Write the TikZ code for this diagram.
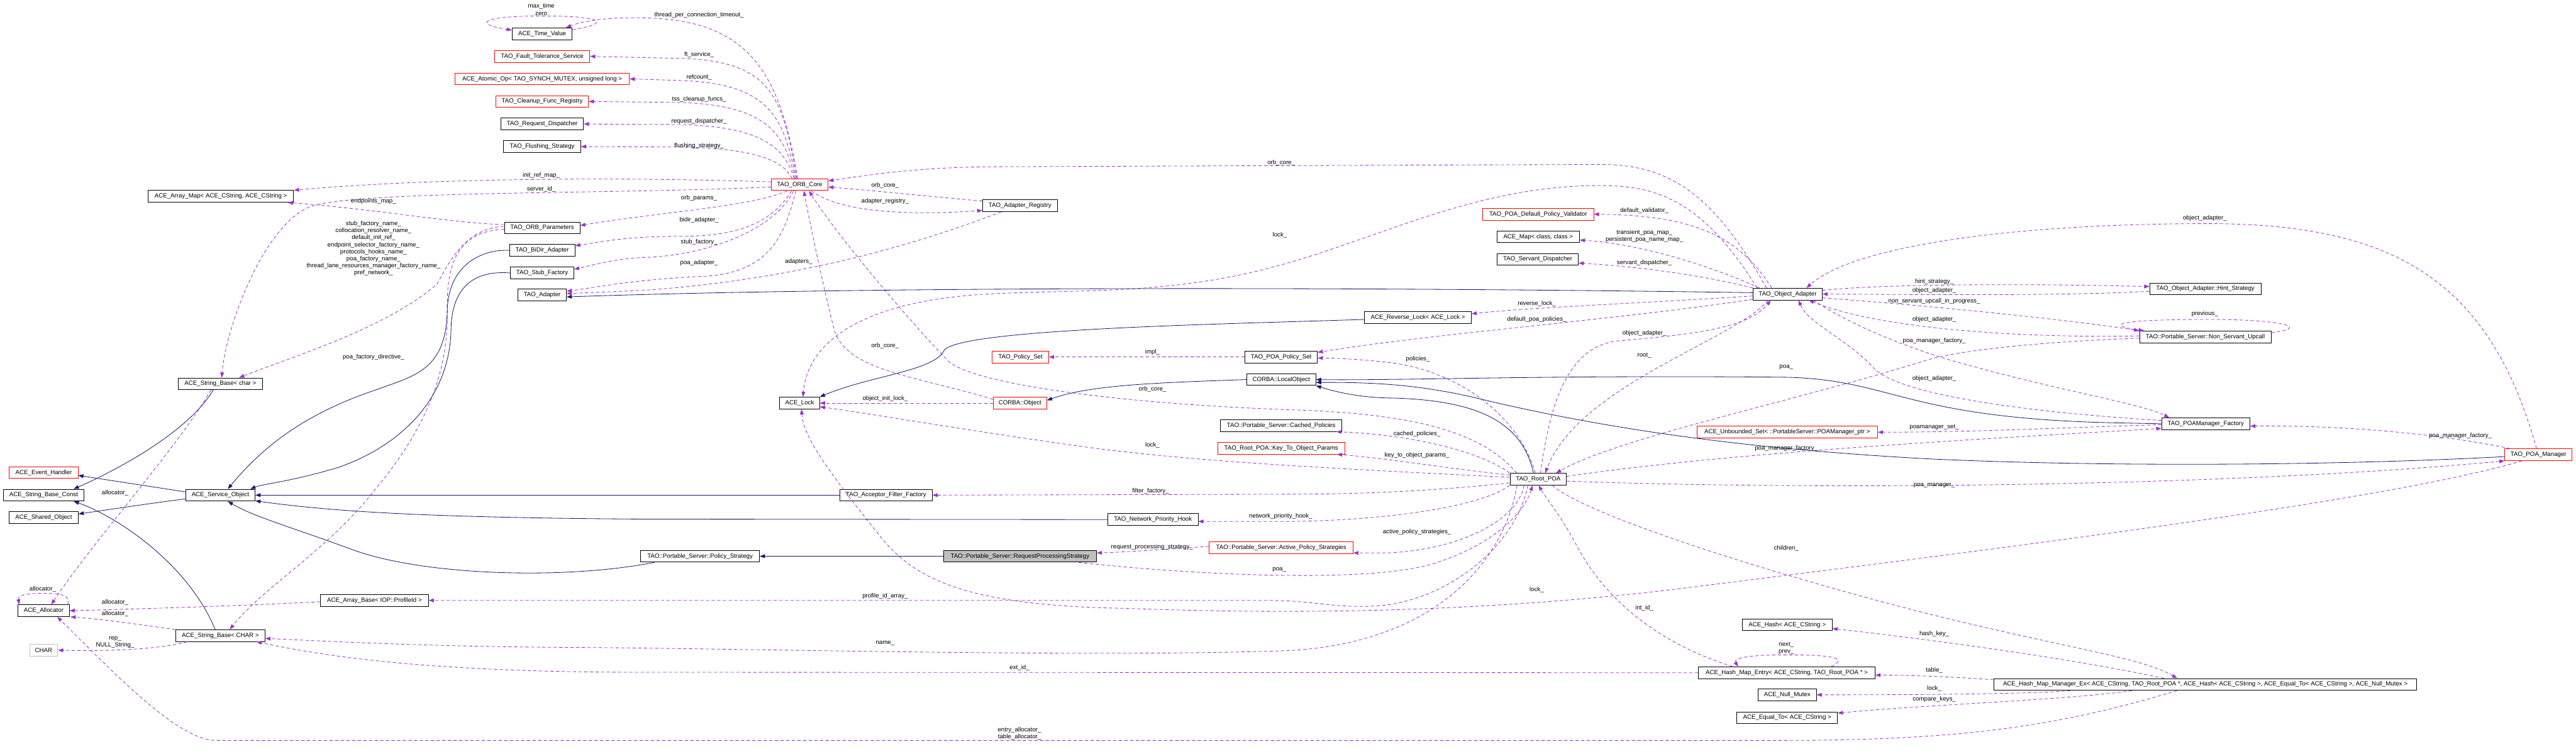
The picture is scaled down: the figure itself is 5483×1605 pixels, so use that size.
\documentclass[tikz,border=0pt]{standalone}
\usepackage{fontspec}
\setmainfont{Liberation Sans}
\usetikzlibrary{arrows.meta}
\definecolor{usecol}{HTML}{9A32CD}
\definecolor{inhcol}{HTML}{191970}
\definecolor{graybox}{HTML}{BFBFBF}
\newcommand{\dgfont}{\fontsize{13}{15}\selectfont}
\begin{document}
\begin{tikzpicture}[x=1pt,y=-1pt,
 box/.style={draw=black,line width=1.2pt,minimum height=25pt,inner xsep=2pt,inner ysep=0pt,font=\dgfont,fill=white},
 redbox/.style={box,draw=red},
 lbl/.style={font=\dgfont,inner sep=0pt,align=center},
 use/.style={draw=usecol,line width=1.1pt,dash pattern=on 7pt off 5pt,-{Triangle[length=11pt,width=8pt]},fill=none},
 inh/.style={draw=inhcol,line width=1.1pt,-{Triangle[length=11pt,width=8pt]}},
]
\useasboundingbox[fill=white] (0,0) rectangle (5483,1605);
\tikzset{every path/.append style={}}
% ---------- nodes ----------
\node[box,minimum width=128pt] (tv) at (1154,72) {ACE\_Time\_Value};
\node[redbox,minimum width=203pt] (fts) at (1154,120) {TAO\_Fault\_Tolerance\_Service};
\node[redbox,minimum width=371pt] (atom) at (1154,168) {ACE\_Atomic\_Op< TAO\_SYNCH\_MUTEX, unsigned long >};
\node[redbox,minimum width=197pt] (cfr) at (1154,216) {TAO\_Cleanup\_Func\_Registry};
\node[box,minimum width=176pt] (rd) at (1154,264) {TAO\_Request\_Dispatcher};
\node[box,minimum width=164pt] (fs) at (1154,312) {TAO\_Flushing\_Strategy};
\node[box,minimum width=310pt] (amap) at (470,418) {ACE\_Array\_Map< ACE\_CString, ACE\_CString >};
\node[box,minimum width=161pt] (orbp) at (1154,485) {TAO\_ORB\_Parameters};
\node[box,minimum width=139pt] (bidir) at (1154,533) {TAO\_BiDir\_Adapter};
\node[box,minimum width=135pt] (stub) at (1154,581) {TAO\_Stub\_Factory};
\node[box,minimum width=103pt] (adapter) at (1154,628) {TAO\_Adapter};
\node[box,minimum width=179pt] (sbchar) at (469,817) {ACE\_String\_Base< char >};
\node[redbox,minimum width=146pt] (evh) at (93,1006) {ACE\_Event\_Handler};
\node[box,minimum width=172pt] (sbc) at (93,1054) {ACE\_String\_Base\_Const};
\node[box,minimum width=148pt] (svc) at (469,1054) {ACE\_Service\_Object};
\node[box,minimum width=147pt] (shobj) at (93,1102) {ACE\_Shared\_Object};
\node[box,minimum width=109pt] (alloc) at (93,1300) {ACE\_Allocator};
\node[box,minimum width=230pt] (abase) at (797,1278) {ACE\_Array\_Base< IOP::ProfileId >};
\node[box,minimum width=190pt] (sbCHAR) at (469,1353) {ACE\_String\_Base< CHAR >};
\node[box,draw=graybox,minimum width=60pt] (charn) at (93,1384) {CHAR};
\node[redbox,minimum width=121pt] (orbcore) at (1702,393) {TAO\_ORB\_Core};
\node[box,minimum width=159pt] (areg) at (2171,438) {TAO\_Adapter\_Registry};
\node[box,minimum width=85pt] (lock) at (1702,858) {ACE\_Lock};
\node[redbox,minimum width=120pt] (pset) at (2172,760) {TAO\_Policy\_Set};
\node[box,minimum width=154pt] (poapset) at (2727,760) {TAO\_POA\_Policy\_Set};
\node[redbox,minimum width=114pt] (cobj) at (2171,858) {CORBA::Object};
\node[box,minimum width=147pt] (lobj) at (2727,808) {CORBA::LocalObject};
\node[box,minimum width=258pt] (cached) at (2727,906) {TAO::Portable\_Server::Cached\_Policies};
\node[redbox,minimum width=270pt] (k2o) at (2727,954) {TAO\_Root\_POA::Key\_To\_Object\_Params};
\node[box,minimum width=196pt] (aff) at (1886,1054) {TAO\_Acceptor\_Filter\_Factory};
\node[box,minimum width=173pt] (sdisp) at (3273,552) {TAO\_Servant\_Dispatcher};
\node[box,minimum width=147pt] (oa) at (3805,626) {TAO\_Object\_Adapter};
\node[box,minimum width=227pt] (rlock) at (3018,676) {ACE\_Reverse\_Lock< ACE\_Lock >};
\node[redbox,minimum width=385pt] (uset) at (3804,920) {ACE\_Unbounded\_Set< ::PortableServer::POAManager\_ptr >};
\node[box,minimum width=120pt] (rootpoa) at (3274,1020) {TAO\_Root\_POA};
\node[box,minimum width=237pt] (hint) at (4694,615) {TAO\_Object\_Adapter::Hint\_Strategy};
\node[box,minimum width=280pt] (nsu) at (4694,717) {TAO::Portable\_Server::Non\_Servant\_Upcall};
\node[box,minimum width=188pt] (pmf) at (4695,902) {TAO\_POAManager\_Factory};
\node[redbox,minimum width=143pt] (pman) at (5403,968) {TAO\_POA\_Manager};
\node[redbox,minimum width=236pt] (pdpv) at (3274,456) {TAO\_POA\_Default\_Policy\_Validator};
\node[box,minimum width=176pt] (amapcc) at (3274,504) {ACE\_Map< class, class >};
\node[box,minimum width=192pt] (nph) at (2454,1106) {TAO\_Network\_Priority\_Hook};
\node[box,minimum width=253pt] (pstrat) at (1490,1184) {TAO::Portable\_Server::Policy\_Strategy};
\node[box,fill=graybox,minimum width=326pt] (rps) at (2171,1184) {TAO::Portable\_Server::RequestProcessingStrategy};
\node[redbox,minimum width=306pt] (aps) at (2727,1166) {TAO::Portable\_Server::Active\_Policy\_Strategies};
\node[box,minimum width=191pt] (ahash) at (3804,1330) {ACE\_Hash< ACE\_CString >};
\node[box,minimum width=376pt] (hme) at (3803,1432) {ACE\_Hash\_Map\_Entry< ACE\_CString, TAO\_Root\_POA * >};
\node[box,minimum width=124pt] (nmutex) at (3804,1479) {ACE\_Null\_Mutex};
\node[box,minimum width=214pt] (eqto) at (3804,1528) {ACE\_Equal\_To< ACE\_CString >};
\node[box,minimum width=900pt] (hmm) at (4694,1457) {ACE\_Hash\_Map\_Manager\_Ex< ACE\_CString, TAO\_Root\_POA *, ACE\_Hash< ACE\_CString >, ACE\_Equal\_To< ACE\_CString >, ACE\_Null\_Mutex >};
% ---------- ORB_Core usage edges ----------
\draw[use] ([xshift=-4pt]orbcore.north) .. controls (1660,160) and (1600,42) .. (1370,38) .. controls (1290,36) and (1240,45) .. ([xshift=-14pt]tv.north east);
\draw[use] ([yshift=9pt]tv.east) .. controls (1300,50) and (1290,34) .. (1154,34) .. controls (1018,34) and (1010,52) .. ([yshift=8pt]tv.west);
\draw[use] ([xshift=-6pt]orbcore.north) .. controls (1665,200) and (1640,128) .. (1440,124) -- (fts.east);
\draw[use] ([xshift=-8pt]orbcore.north) .. controls (1668,250) and (1640,176) .. (1440,171) -- (atom.east);
\draw[use] ([xshift=-10pt]orbcore.north) .. controls (1670,290) and (1640,222) .. (1440,218) -- (cfr.east);
\draw[use] ([xshift=-12pt]orbcore.north) .. controls (1672,320) and (1630,268) .. (1440,265) -- (rd.east);
\draw[use] ([xshift=-16pt]orbcore.north) .. controls (1670,350) and (1630,315) .. (1440,313) -- (fs.east);
\draw[use] ([yshift=6pt]orbcore.west) .. controls (1300,376) and (900,380) .. (amap.north east);
\draw[use] ([yshift=-5pt]orbcore.west) .. controls (1300,414) and (760,405) .. (660,440) .. controls (560,480) and (480,700) .. ([xshift=3pt]sbchar.north);
\draw[use] ([yshift=7pt]orbp.west) .. controls (960,475) and (800,445) .. ([xshift=-13pt]amap.south east);
\draw[use] ([yshift=3pt]orbp.west) .. controls (990,485) and (955,560) .. (930,605) .. controls (820,700) and (620,760) .. ([xshift=40pt]sbchar.north);
\draw[use] ([yshift=-3pt]orbp.west) .. controls (975,492) and (950,560) .. (952,660) .. controls (955,800) and (900,920) .. (800,1040) .. controls (700,1170) and (560,1250) .. ([xshift=20pt]sbCHAR.north);
\draw[use] ([xshift=-26pt]orbcore.south) .. controls (1600,440) and (1400,452) .. ([yshift=5pt]orbp.east);
\draw[use] ([xshift=-17pt]orbcore.south) .. controls (1640,480) and (1560,503) .. (1450,503) .. controls (1330,503) and (1280,515) .. ([yshift=10pt]bidir.east);
\draw[use] ([xshift=-13pt]orbcore.south) .. controls (1650,490) and (1500,545) .. (1370,548) .. controls (1300,552) and (1260,565) .. ([yshift=8pt]stub.east);
\draw[use] ([xshift=-8pt]orbcore.south) .. controls (1670,500) and (1640,580) .. (1500,588) .. controls (1350,595) and (1280,610) .. ([yshift=8pt]adapter.east);
\draw[use] ([xshift=-40pt]areg.south) .. controls (1950,520) and (1700,595) .. (1370,618) -- ([yshift=3pt]adapter.east);
\draw[use] ([yshift=10pt]areg.west) .. controls (2000,420) and (1850,405) .. ([yshift=-5pt]orbcore.east);
\draw[use] ([xshift=25pt]orbcore.south) .. controls (1790,455) and (1950,458) .. ([yshift=-10pt]areg.west);
% ---------- Object adapter ----------
\draw[use] ([xshift=-45pt]oa.north) .. controls (3650,420) and (3560,348) .. (3400,350) -- (2100,355) .. controls (1950,357) and (1850,372) .. ([yshift=8pt]orbcore.east);
\draw[use] ([xshift=-65pt]oa.north) .. controls (3620,420) and (3520,395) .. (3404,395) .. controls (3150,395) and (2950,500) .. (2740,560) .. controls (2500,630) and (2300,615) .. (2100,626) .. controls (1850,640) and (1720,720) .. ([xshift=7pt]lock.north);
\draw[use] ([yshift=8pt]cobj.west) .. controls (1950,800) and (1800,790) .. (1775,700) .. controls (1750,600) and (1725,480) .. ([xshift=9pt]orbcore.south);
\draw[use] ([xshift=15pt]rootpoa.north west) .. controls (3150,915) and (3000,880) .. (2740,872) .. controls (2400,860) and (2080,820) .. (2020,770) .. controls (1950,700) and (1780,500) .. ([xshift=20pt]orbcore.south);
\draw[use] (poapset.west) -- (pset.east);
\draw[use] (cobj.west) -- (lock.east);
\draw[use] ([yshift=4pt]rootpoa.west) .. controls (2900,1000) and (2550,985) .. (2300,950) .. controls (2050,915) and (1850,880) .. ([yshift=-8pt]lock.east);
\draw[use] ([yshift=-8pt]rootpoa.west) .. controls (3050,1045) and (2900,1052) .. (2740,1052) -- (aff.east);
\draw[use] ([xshift=-6pt]rootpoa.north) .. controls (3230,880) and (3100,790) .. (2960,772) .. controls (2900,765) and (2840,762) .. ([yshift=-2pt]poapset.east);
\draw[use] ([yshift=-11pt]oa.west) .. controls (3450,680) and (3050,710) .. ([yshift=10pt]poapset.east);
\draw[use] ([yshift=-4pt]oa.west) .. controls (3500,645) and (3250,655) .. ([yshift=8pt]rlock.east);
\draw[inh] ([yshift=3pt]oa.west) .. controls (3000,612) and (1900,608) .. ([yshift=-4pt]adapter.east);
\draw[inh] ([yshift=-4pt]rlock.west) .. controls (2600,690) and (2050,700) .. (2010,745) .. controls (1990,790) and (1850,800) .. (lock.north east);
\draw[use] (oa.north west) .. controls (3600,580) and (3450,565) .. ([yshift=-8pt]sdisp.east);
\draw[use] ([xshift=14pt]oa.north west) .. controls (3650,570) and (3500,520) .. ([yshift=-7pt]amapcc.east);
\draw[use] ([xshift=40pt]oa.north west) .. controls (3700,500) and (3600,458) .. (pdpv.east);
\draw[use] ([xshift=5pt]rootpoa.north) .. controls (3300,850) and (3340,740) .. (3440,726) .. controls (3600,712) and (3720,700) .. ([xshift=-36pt]oa.south);
\draw[use] ([xshift=-42pt]oa.south) .. controls (3700,720) and (3360,820) .. ([xshift=15pt]rootpoa.north);
\draw[use] ([yshift=-3pt]nsu.west) .. controls (4400,725) and (4200,740) .. (4110,764) .. controls (3800,860) and (3450,930) .. ([xshift=38pt]rootpoa.north);
\draw[use] ([yshift=2pt]nsu.west) .. controls (4300,720) and (4000,700) .. ([xshift=45pt]oa.south);
\draw[use] ([yshift=-8pt]oa.east) .. controls (4100,650) and (4400,680) .. (nsu.north west);
\draw[use] ([yshift=8pt]oa.east) .. controls (4000,605) and (4300,603) .. ([yshift=5pt]hint.west);
\draw[use] ([yshift=-5pt]hint.west) .. controls (4400,630) and (4100,627) .. (oa.east);
\draw[use] ([yshift=9pt]nsu.east) .. controls (4910,700) and (4880,680) .. (4700,680) .. controls (4500,680) and (4480,692) .. ([xshift=10pt]nsu.north west);
\draw[use] ([xshift=55pt]oa.south) .. controls (3950,700) and (4100,755) .. (4200,780) .. controls (4400,835) and (4560,860) .. ([xshift=-78pt]pmf.north);
\draw[use] ([yshift=7pt]pmf.west) .. controls (4350,880) and (4050,845) .. (3990,785) .. controls (3930,720) and (3850,690) .. ([xshift=23pt]oa.south);
\draw[use] ([xshift=-4pt]pman.north) .. controls (5300,600) and (5100,476) .. (4700,476) .. controls (4300,476) and (3950,520) .. ([xshift=40pt]oa.north);
\draw[use] ([xshift=-60pt]pman.north) .. controls (5200,925) and (5000,905) .. ([yshift=-5pt]pmf.east);
\draw[use] ([yshift=-2pt]pmf.west) .. controls (4400,910) and (4200,920) .. (uset.east);
\draw[use] ([yshift=6pt]rootpoa.east) .. controls (3700,960) and (4300,930) .. ([yshift=-10pt]pmf.west);
\draw[use] ([yshift=-4pt]rootpoa.east) .. controls (3800,1042) and (4700,1040) .. (pman.south west);
\draw[use] ([xshift=-35pt]pman.south) .. controls (5100,1060) and (4400,1150) .. (3600,1250) .. controls (3200,1300) and (2800,1310) .. (2400,1295) .. controls (2050,1290) and (1950,1230) .. (1880,1150) .. controls (1760,1000) and (1710,930) .. ([xshift=4pt]lock.south);
% ---------- Root POA ----------
\draw[use] ([xshift=30pt]rootpoa.south) .. controls (3380,1100) and (3800,1230) .. (4110,1308) .. controls (4400,1380) and (4560,1400) .. ([xshift=-60pt]hmm.north);
\draw[use] ([xshift=125pt]rps.south) .. controls (2500,1220) and (2900,1245) .. (3050,1200) .. controls (3180,1160) and (3245,1090) .. ([xshift=-12pt]rootpoa.south);
\draw[use] ([xshift=-115pt]hme.north) .. controls (3500,1360) and (3400,1250) .. (3350,1150) .. controls (3310,1080) and (3290,1060) .. ([xshift=1pt]rootpoa.south);
\draw[use] ([xshift=95pt]hme.north) .. controls (3935,1400) and (3900,1394) .. (3800,1394) .. controls (3700,1394) and (3690,1405) .. ([xshift=-103pt]hme.north);
\draw[use] (hme.west) -- (1370,1431) .. controls (1000,1431) and (750,1410) .. ([xshift=77pt]sbCHAR.south);
\draw[use] ([xshift=-45pt]rootpoa.south) .. controls (3200,1200) and (3050,1370) .. (2740,1385) .. controls (2300,1400) and (1600,1380) .. (1200,1378) .. controls (900,1376) and (700,1365) .. ([yshift=-6pt]sbCHAR.east);
\draw[use] ([xshift=-22pt]rootpoa.south) .. controls (3230,1150) and (3100,1268) .. (2950,1288) .. controls (2850,1298) and (2800,1278) .. (2700,1278) -- (abase.east);
\draw[use] (rootpoa.south west) .. controls (3150,1080) and (2950,1107) .. (2750,1110) -- ([yshift=-4pt]nph.east);
\draw[use] ([xshift=-30pt]rootpoa.south) .. controls (3230,1110) and (3100,1172) .. (2950,1177) -- ([yshift=-11pt]aps.east);
\draw[use] ([yshift=3pt]aps.west) .. controls (2500,1168) and (2400,1175) .. ([yshift=7pt]rps.east);
\draw[use] (rootpoa.north west) .. controls (3150,960) and (3000,925) .. ([xshift=-12pt]cached.south east);
\draw[use] ([yshift=9pt]rootpoa.west) .. controls (3100,1000) and (2950,975) .. ([xshift=-17pt]k2o.south east);
% ---------- inheritance ----------
\draw[inh] ([xshift=-10pt]rootpoa.north) .. controls (3240,900) and (3150,850) .. (2950,847) .. controls (2880,845) and (2830,830) .. (lobj.south east);
\draw[inh] (pmf.west) -- (4500,900) .. controls (4050,890) and (4030,808) .. (3800,803) .. controls (3300,798) and (3000,810) .. (lobj.east);
\draw[inh] ([yshift=-4pt]pman.west) .. controls (5000,990) and (4500,995) .. (4110,977) .. controls (3700,955) and (3400,910) .. (3133,845) .. controls (3000,815) and (2900,814) .. ([yshift=-6pt]lobj.east);
\draw[inh] (lobj.west) .. controls (2450,815) and (2320,820) .. ([yshift=6pt]cobj.east);
\draw[inh] (rps.west) -- (pstrat.east);
\draw[inh] ([xshift=30pt]pstrat.south west) .. controls (1200,1235) and (900,1225) .. (750,1170) .. controls (620,1122) and (540,1100) .. ([xshift=16pt]svc.south);
\draw[inh] (nph.west) -- (1370,1105) .. controls (900,1102) and (700,1088) .. ([yshift=1pt]svc.south east);
\draw[inh] (aff.west) -- (svc.east);
\draw[inh] (bidir.west) .. controls (1030,530) and (955,560) .. (952,660) .. controls (950,790) and (880,800) .. (800,830) .. controls (650,880) and (560,950) .. ([xshift=16pt]svc.north);
\draw[inh] (stub.west) .. controls (1010,575) and (962,610) .. (960,700) .. controls (958,850) and (850,950) .. (720,995) .. controls (620,1025) and (560,1030) .. ([xshift=64pt]svc.north);
\draw[inh] ([yshift=7pt]svc.west) -- ([yshift=-6pt]evh.east);
\draw[inh] ([yshift=-8pt]svc.west) .. controls (330,1070) and (230,1085) .. ([yshift=8pt]shobj.east);
\draw[inh] ([xshift=-15pt]sbchar.south) .. controls (400,920) and (250,1000) .. ([xshift=64pt]sbc.north);
\draw[inh] ([xshift=-11pt]sbCHAR.north) .. controls (400,1200) and (250,1100) .. ([xshift=64pt]sbc.south);
% ---------- allocator / strings ----------
\draw[use] ([xshift=-20pt]sbchar.south) .. controls (380,950) and (200,1150) .. ([xshift=16pt]alloc.north);
\draw[use] ([xshift=-4pt]alloc.north east) .. controls (150,1266) and (130,1263) .. (93,1263) .. controls (50,1263) and (38,1268) .. ([xshift=3pt]alloc.north west);
\draw[use] ([yshift=-3pt]abase.west) .. controls (500,1290) and (300,1296) .. (alloc.east);
\draw[use] (sbCHAR.north west) .. controls (300,1330) and (220,1318) .. ([xshift=2pt]alloc.south east);
\draw[use] ([xshift=25pt]sbCHAR.south west) .. controls (330,1385) and (200,1386) .. (charn.east);
\draw[use] ([xshift=-60pt]hmm.south) .. controls (4400,1540) and (4200,1576) .. (3800,1576) -- (460,1576) .. controls (380,1576) and (250,1440) .. ([xshift=29pt]alloc.south);
\draw[use] ([yshift=10pt]hmm.west) .. controls (4150,1440) and (4050,1437) .. ([yshift=-5pt]hme.east);
\draw[use] ([xshift=-88pt]hmm.north) .. controls (4400,1400) and (4100,1360) .. ([yshift=-8pt]ahash.east);
\draw[use] ([xshift=-287pt]hmm.south) .. controls (4350,1475) and (4200,1479) .. (nmutex.east);
\draw[use] ([xshift=-156pt]hmm.south) .. controls (4400,1490) and (4100,1500) .. ([yshift=10pt]eqto.east);
% ---------- labels ----------
\node[lbl] (L01) at (1152,20) {max\_time\\zero};
\node[lbl] (L02) at (1488,32) {thread\_per\_connection\_timeout\_};
\node[lbl] (L03) at (1488,117) {ft\_service\_};
\node[lbl] (L04) at (1488,164) {refcount\_};
\node[lbl] (L05) at (1488,212) {tss\_cleanup\_funcs\_};
\node[lbl] (L06) at (1488,258) {request\_dispatcher\_};
\node[lbl] (L07) at (1488,310) {flushing\_strategy\_};
\node[lbl] (L08) at (1152,374) {init\_ref\_map\_};
\node[lbl] (L09) at (1152,403) {server\_id\_};
\node[lbl] (L10) at (795,429) {endpoints\_map\_};
\node[lbl] (L11) at (795,529) {stub\_factory\_name\_\\collocation\_resolver\_name\_\\default\_init\_ref\_\\endpoint\_selector\_factory\_name\_\\protocols\_hooks\_name\_\\poa\_factory\_name\_\\thread\_lane\_resources\_manager\_factory\_name\_\\pref\_network\_};
\node[lbl] (L12) at (795,760) {poa\_factory\_directive\_};
\node[lbl] (L13) at (1488,421) {orb\_params\_};
\node[lbl] (L14) at (1488,468) {bidir\_adapter\_};
\node[lbl] (L15) at (1488,515) {stub\_factory\_};
\node[lbl] (L16) at (1488,560) {poa\_adapter\_};
\node[lbl] (L17) at (1700,557) {adapters\_};
\node[lbl] (L18) at (1884,395) {orb\_core\_};
\node[lbl] (L19) at (1884,429) {adapter\_registry\_};
\node[lbl] (L20) at (2727,346) {orb\_core\_};
\node[lbl] (L21) at (2724,500) {lock\_};
\node[lbl] (L22) at (1884,736) {orb\_core\_};
\node[lbl] (L23) at (2453,749) {impl\_};
\node[lbl] (L24) at (1884,849) {object\_init\_lock\_};
\node[lbl] (L25) at (2453,828) {orb\_core\_};
\node[lbl] (L26) at (2453,948) {lock\_};
\node[lbl] (L27) at (2449,1046) {filter\_factory\_};
\node[lbl] (L28) at (3500,559) {servant\_dispatcher\_};
\node[lbl] (L29) at (3271,647) {reverse\_lock\_};
\node[lbl] (L30) at (3271,680) {default\_poa\_policies\_};
\node[lbl] (L31) at (3500,709) {object\_adapter\_};
\node[lbl] (L32) at (3500,757) {root\_};
\node[lbl] (L33) at (3018,764) {policies\_};
\node[lbl] (L34) at (3802,781) {poa\_};
\node[lbl] (L35) at (3016,923) {cached\_policies\_};
\node[lbl] (L36) at (3016,969) {key\_to\_object\_params\_};
\node[lbl] (L37) at (3802,955) {poa\_manager\_factory\_};
\node[lbl] (L38) at (3500,448) {default\_validator\_};
\node[lbl] (L39) at (3500,503) {transient\_poa\_map\_\\persistent\_poa\_name\_map\_};
\node[lbl] (L40) at (4117,600) {hint\_strategy\_};
\node[lbl] (L41) at (4117,619) {object\_adapter\_};
\node[lbl] (L42) at (4117,641) {non\_servant\_upcall\_in\_progress\_};
\node[lbl] (L43) at (4117,680) {object\_adapter\_};
\node[lbl] (L44) at (4117,725) {poa\_manager\_factory\_};
\node[lbl] (L45) at (4117,806) {object\_adapter\_};
\node[lbl] (L46) at (4117,910) {poamanager\_set\_};
\node[lbl] (L47) at (4117,1033) {poa\_manager\_};
\node[lbl] (L48) at (4693,668) {previous\_};
\node[lbl] (L49) at (5237,927) {poa\_manager\_factory\_};
\node[lbl] (L50) at (4693,465) {object\_adapter\_};
\node[lbl] (L51) at (2726,1099) {network\_priority\_hook\_};
\node[lbl] (L52) at (2452,1164) {request\_processing\_strategy\_};
\node[lbl] (L53) at (2723,1213) {poa\_};
\node[lbl] (L54) at (1884,1269) {profile\_id\_array\_};
\node[lbl] (L55) at (1884,1369) {name\_};
\node[lbl] (L56) at (2170,1421) {ext\_id\_};
\node[lbl] (L57) at (2170,1561) {entry\_allocator\_\\table\_allocator\_};
\node[lbl] (L58) at (3016,1132) {active\_policy\_strategies\_};
\node[lbl] (L59) at (3802,1167) {children\_};
\node[lbl] (L60) at (3271,1256) {lock\_};
\node[lbl] (L61) at (3500,1294) {int\_id\_};
\node[lbl] (L62) at (4117,1349) {hash\_key\_};
\node[lbl] (L63) at (3802,1380) {next\_\\prev\_};
\node[lbl] (L64) at (4117,1427) {table\_};
\node[lbl] (L65) at (4117,1466) {lock\_};
\node[lbl] (L66) at (4117,1489) {compare\_keys\_};
\node[lbl] (L67) at (91,1254) {allocator\_};
\node[lbl] (L68) at (245,1282) {allocator\_};
\node[lbl] (L69) at (245,1307) {allocator\_};
\node[lbl] (L70) at (245,1367) {rep\_\\NULL\_String\_};
\node[lbl] (L71) at (245,1050) {allocator\_};
\end{tikzpicture}
\end{document}
